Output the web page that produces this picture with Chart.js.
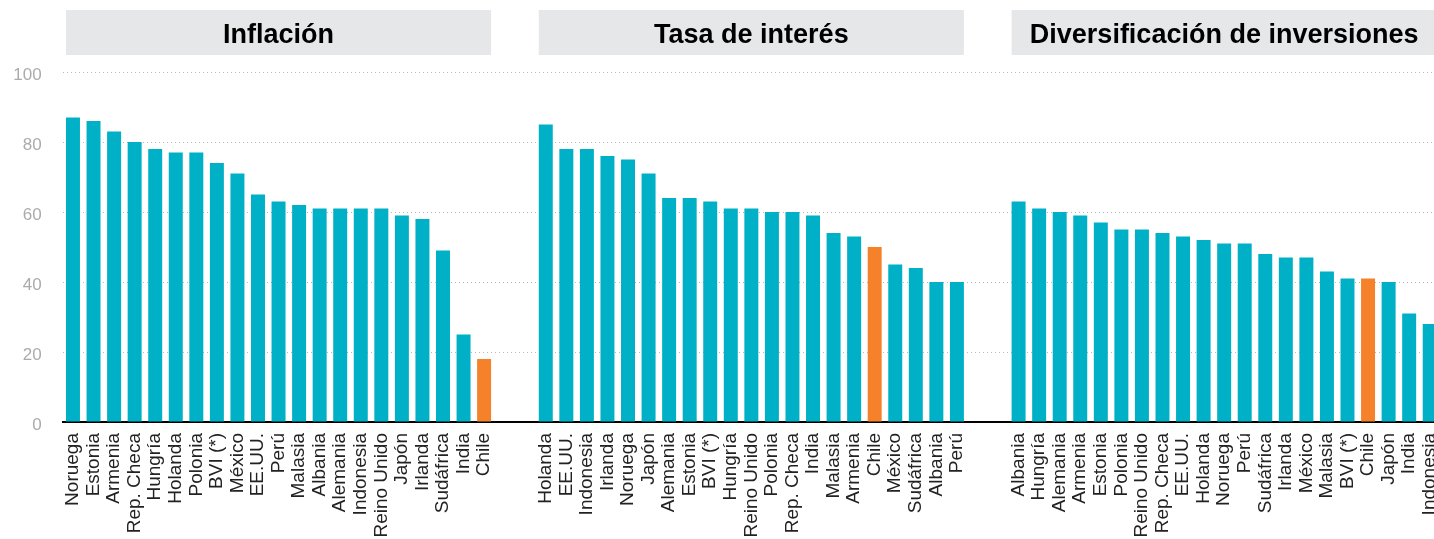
<!DOCTYPE html>
<html>
<head>
<meta charset="utf-8">
<script src="https://cdn.jsdelivr.net/npm/chart.js@4/dist/chart.umd.min.js"></script>
<style>
  html, body { margin: 0; padding: 0; background: #fff; overflow: hidden; }
</style>
</head>
<body>
<canvas id="mycanvas" width="1440" height="539"></canvas>
<script>
// panel titles
var titles = ['Inflación', 'Tasa de interés', 'Diversificación de inversiones'];

// panel 1: Inflación
var paisesInflacion = ['Noruega', 'Estonia', 'Armenia', 'Rep. Checa', 'Hungría', 'Holanda', 'Polonia', 'BVI (*)', 'México', 'EE.UU.', 'Perú', 'Malasia', 'Albania', 'Alemania', 'Indonesia', 'Reino Unido', 'Japón', 'Irlanda', 'Sudáfrica', 'India', 'Chile'];
var valoresInflacion = [87, 86, 83, 80, 78, 77, 77, 74, 71, 65, 63, 62, 61, 61, 61, 61, 59, 58, 49, 25, 18];

// panel 2: Tasa de interés
var paisesTasa = ['Holanda', 'EE.UU.', 'Indonesia', 'Irlanda', 'Noruega', 'Japón', 'Alemania', 'Estonia', 'BVI (*)', 'Hungría', 'Reino Unido', 'Polonia', 'Rep. Checa', 'India', 'Malasia', 'Armenia', 'Chile', 'México', 'Sudáfrica', 'Albania', 'Perú'];
var valoresTasa = [85, 78, 78, 76, 75, 71, 64, 64, 63, 61, 61, 60, 60, 59, 54, 53, 50, 45, 44, 40, 40];

// panel 3: Diversificación de inversiones
var paisesDiversif = ['Albania', 'Hungría', 'Alemania', 'Armenia', 'Estonia', 'Polonia', 'Reino Unido', 'Rep. Checa', 'EE.UU.', 'Holanda', 'Noruega', 'Perú', 'Sudáfrica', 'Irlanda', 'México', 'Malasia', 'BVI (*)', 'Chile', 'Japón', 'India', 'Indonesia'];
var valoresDiversif = [63, 61, 60, 59, 57, 55, 55, 54, 53, 52, 51, 51, 48, 47, 47, 43, 41, 41, 40, 31, 28];

var yTicks = [0, 20, 40, 60, 80, 100];

var TEAL = '#00b0c6';
var ORANGE = '#f5822a';
var GAP = 2; // empty slots between panels

// build one long category axis with gaps
var labels = [];
var values = [];
var colors = [];
var panels = []; // [firstIndex, lastIndex]
[[paisesInflacion, valoresInflacion], [paisesTasa, valoresTasa], [paisesDiversif, valoresDiversif]].forEach(function(p, k) {
  if (k > 0) {
    for (var g = 0; g < GAP; g++) { labels.push(''); values.push(null); colors.push(TEAL); }
  }
  var start = labels.length;
  for (var i = 0; i < p[0].length; i++) {
    labels.push(p[0][i]);
    values.push(p[1][i]);
    colors.push(p[0][i] === 'Chile' ? ORANGE : TEAL);
  }
  panels.push([start, labels.length - 1]);
});

var BAR_PCT = 0.68;

var panelTitles = {
  id: 'panelTitles',
  beforeDraw: function(chart) {
    var ctx = chart.ctx;
    var x = chart.scales.x;
    var half = (x.getPixelForValue(1) - x.getPixelForValue(0)) * BAR_PCT / 2;
    ctx.save();
    panels.forEach(function(p, k) {
      var x0 = x.getPixelForValue(p[0]) - half;
      var x1 = x.getPixelForValue(p[1]) + half;
      ctx.fillStyle = '#e6e7e8';
      ctx.fillRect(x0, 10, x1 - x0, 45);
      ctx.fillStyle = '#000';
      ctx.font = 'bold 27px "Liberation Sans", Arial, sans-serif';
      ctx.textAlign = 'center';
      ctx.textBaseline = 'alphabetic';
      ctx.fillText(titles[k], (x0 + x1) / 2, 43);
    });
    ctx.restore();
  }
};

var chartdata = {
  labels: labels,
  datasets: [
    {
      label: 'valor',
      backgroundColor: colors,
      borderWidth: 0,
      barPercentage: BAR_PCT,
      categoryPercentage: 1,
      data: values
    }
  ]
};

var ctx = document.getElementById('mycanvas');

var barGraph = new Chart(ctx, {
  type: 'bar',
  data: chartdata,
  plugins: [panelTitles],
  options: {
    responsive: false,
    animation: false,
    layout: { padding: { top: 72, left: 0, right: 0, bottom: 0 } },
    plugins: {
      legend: { display: false },
      tooltip: { enabled: false }
    },
    scales: {
      x: {
        grid: { display: false, drawTicks: false },
        border: { display: true, color: '#000', width: 2 },
        ticks: {
          autoSkip: false,
          minRotation: 90,
          maxRotation: 90,
          padding: 11,
          color: '#222',
          font: { family: '"Liberation Sans", Arial, sans-serif', size: 19 }
        },
        afterFit: function(s) {
          s.height = 117;
          s.paddingLeft = 0;
          s.paddingRight = 0;
        }
      },
      y: {
        min: 0,
        max: 100,
        afterBuildTicks: function(s) {
          s.ticks = yTicks.map(function(v) { return { value: v }; });
        },
        grid: {
          color: '#b8b8b8',
          lineWidth: 1,
          drawTicks: false
        },
        border: { display: false, dash: [1, 3] },
        ticks: {
          padding: 21,
          labelOffset: 3,
          color: '#ababab',
          font: { family: '"Liberation Sans", Arial, sans-serif', size: 17 }
        },
        afterFit: function(s) {
          s.width = 62.7;
        }
      }
    }
  }
});
</script>
</body>
</html>
